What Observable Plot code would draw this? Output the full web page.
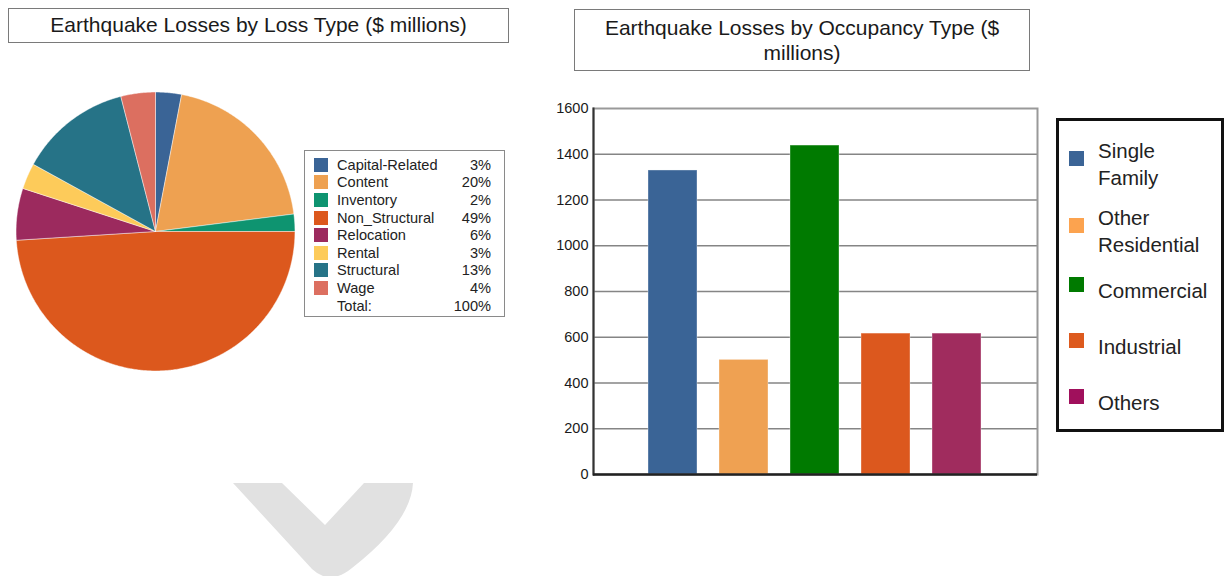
<!DOCTYPE html>
<html>
<head>
<meta charset="utf-8">
<script src="https://cdn.jsdelivr.net/npm/d3@7"></script>
<script src="https://cdn.jsdelivr.net/npm/@observablehq/plot@0.6"></script>
<style>
  html, body { margin: 0; padding: 0; background: #fff; }
  body { width: 1225px; height: 576px; position: relative; overflow: hidden;
         font-family: "Liberation Sans", Arial, sans-serif; color: #1a1a1a; }
  .abs { position: absolute; }
  .title { box-sizing: border-box; border: 1.5px solid #7a7a7a; background: #fff;
           font-size: 21px; text-align: center; line-height: 25px; color: #1a1a1a; }
  #pieLegend { left: 304px; top: 150px; width: 201px; height: 167px; box-sizing: border-box;
               border: 1.3px solid #8a8a8a; padding: 5px 13px 0 9px; font-size: 14.6px; color: #222; }
  #pieLegend .row { display: flex; align-items: center; height: 17.6px; }
  #pieLegend .sw { width: 14px; height: 14px; margin-right: 9px; flex: none; }
  #pieLegend .name { flex: 1; }
  #pieLegend .pct { text-align: right; }
  #occLegend { left: 1056px; top: 118px; width: 168px; height: 314px; box-sizing: border-box;
               border: 3px solid #111; padding-top: 7px; font-size: 20.5px; color: #222; }
  #occLegend .item { display: flex; align-items: center; }
  #occLegend .sw { width: 15px; height: 15px; margin: 0 14px 12px 10px; flex: none; }
  #occLegend .name { width: 118px; line-height: 27px; }
</style>
</head>
<body>
<svg class="abs" style="left:0;top:0" width="1225" height="576">
  <path d="M233,483 L282,483 L325,525 L364,483 L413,483 Q411,522 352,568 Q330,586 312,569 Z" fill="#e1e1e1"/>
</svg>
<div class="abs title" style="left:8px;top:8px;width:501px;height:35px;line-height:32px;">Earthquake Losses by Loss Type ($ millions)</div>
<div class="abs title" style="left:574px;top:9px;width:456px;height:62px;padding-top:5px;">Earthquake Losses by Occupancy Type ($<br>millions)</div>
<div id="pie" class="abs" style="left:15px;top:91px;"></div>
<div id="pieLegend" class="abs"></div>
<div id="bars" class="abs" style="left:540px;top:90px;"></div>
<div id="occLegend" class="abs"></div>
<script>
// Loss types (pie) and their share of total losses, in percent
const lossTypes = ["Capital-Related", "Content", "Inventory", "Non_Structural", "Relocation", "Rental", "Structural", "Wage"];
const lossShares = [3, 20, 2, 49, 6, 3, 13, 4];
const lossColors = ["#3a6496", "#eea151", "#0e9470", "#dc581d", "#9c2a5e", "#fdcb5a", "#267387", "#dc6f60"];

// Occupancy types (bars) and losses in $ millions
const occTypes = ["Single Family", "Other Residential", "Commercial", "Industrial", "Others"];
const occLosses = [1329, 501, 1438, 616, 616];
const occColors = ["#3a6496", "#efa152", "#007a00", "#dc581e", "#a02c5e"];
const occLegendColors = ["#3b6496", "#fca34f", "#007a00", "#dd5a1e", "#a0105c"];

// Value axis ticks
const yTicks = [0, 200, 400, 600, 800, 1000, 1200, 1400, 1600];

const FONT = '"Liberation Sans", Arial, sans-serif';

// ---- Pie: turn each share into a closed wedge outline (clockwise from 12 o'clock)
const arcs = d3.pie().sort(null).value(d => d)(lossShares);
const wedgePoints = [];
arcs.forEach((a, i) => {
  const type = lossTypes[i];
  wedgePoints.push({type, x: 0, y: 0});
  const n = Math.max(2, Math.ceil((a.endAngle - a.startAngle) / (Math.PI / 360)));
  for (let k = 0; k <= n; k++) {
    const t = a.startAngle + (a.endAngle - a.startAngle) * k / n;
    wedgePoints.push({type, x: Math.sin(t), y: Math.cos(t)});
  }
  wedgePoints.push({type, x: 0, y: 0});
});

const pie = Plot.plot({
  width: 280, height: 280,
  margin: 0,
  x: {domain: [-1.004, 1.004], axis: null},
  y: {domain: [-1.004, 1.004], axis: null},
  color: {domain: lossTypes, range: lossColors},
  marks: [
    Plot.line(wedgePoints, {x: "x", y: "y", z: "type", fill: "type", stroke: "#ffffff", strokeOpacity: 0.55, strokeWidth: 0.8, curve: "linear"})
  ]
});
document.getElementById("pie").append(pie);

// Pie legend
const pl = document.getElementById("pieLegend");
lossTypes.forEach((t, i) => {
  const row = document.createElement("div");
  row.className = "row";
  row.innerHTML = `<span class="sw" style="background:${lossColors[i]}"></span><span class="name">${t}</span><span class="pct">${lossShares[i]}%</span>`;
  pl.append(row);
});
const totalRow = document.createElement("div");
totalRow.className = "row";
totalRow.innerHTML = `<span class="sw"></span><span class="name">Total:</span><span class="pct">${d3.sum(lossShares)}%</span>`;
pl.append(totalRow);

// ---- Bar chart
const occData = occTypes.map((type, i) => ({type, loss: occLosses[i]}));
const bars = Plot.plot({
  width: 500, height: 395,
  marginLeft: 53, marginRight: 3, marginTop: 18, marginBottom: 11,
  style: {fontFamily: FONT, fontSize: "14.5px", color: "#1a1a1a", background: "transparent"},
  x: {type: "band", domain: occTypes, paddingInner: 0.306, paddingOuter: 0.76, axis: null},
  y: {domain: [0, 1600], axis: null},
  color: {domain: occTypes, range: occColors},
  marks: [
    Plot.ruleY(yTicks.filter(v => v > 0 && v < 1600), {stroke: "#858585", strokeWidth: 1.6}),
    Plot.frame({stroke: "#999", strokeWidth: 2}),
    Plot.barY(occData, {x: "type", y: "loss", fill: "type", stroke: "#ffffff", strokeOpacity: 0.35, strokeWidth: 1}),
    Plot.frame({anchor: "left", stroke: "#333", strokeWidth: 2}),
    Plot.ruleY([0], {stroke: "#222", strokeWidth: 2.5}),
    Plot.axisY({ticks: yTicks, tickFormat: d => String(d), tickSize: 0, tickPadding: 5, label: null, fill: "#1a1a1a"})
  ]
});
document.getElementById("bars").append(bars);

// Occupancy legend
const ol = document.getElementById("occLegend");
const occItemHeights = [72, 62, 56, 56, 56];
occTypes.forEach((t, i) => {
  const item = document.createElement("div");
  item.className = "item";
  item.style.height = occItemHeights[i] + "px";
  item.innerHTML = `<span class="sw" style="background:${occLegendColors[i]}"></span><span class="name">${t}</span>`;
  ol.append(item);
});
</script>
</body>
</html>
